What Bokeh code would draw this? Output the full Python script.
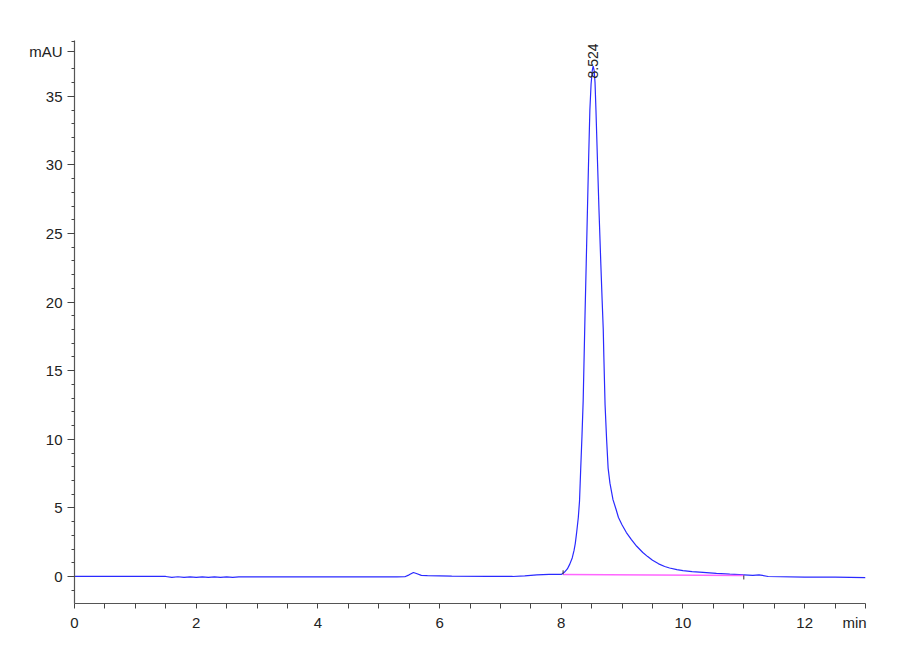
from bokeh.plotting import figure
from bokeh.models import Range1d, FixedTicker, ColumnDataSource
from bokeh.embed import file_html
from bokeh.resources import INLINE
from bokeh.core.properties import value
import math

# Chromatogram trace (time in min, signal in mAU)
times = [0.0, 1.5, 1.6, 1.7, 1.8, 1.9, 2.0, 2.1, 2.2, 2.3, 2.4, 2.5, 2.6, 2.7,
         3.5, 4.5, 5.3, 5.43, 5.5, 5.57, 5.63, 5.7, 5.8, 6.2, 6.8, 7.2, 7.4,
         7.6, 7.8, 8.0, 8.05, 8.1, 8.14, 8.18, 8.21, 8.23, 8.25, 8.28, 8.30,
         8.32, 8.34, 8.36, 8.39, 8.41, 8.43, 8.45, 8.47, 8.49, 8.51, 8.524,
         8.54, 8.555, 8.57, 8.595, 8.62, 8.65, 8.672, 8.69, 8.70, 8.72, 8.745,
         8.77, 8.80, 8.85, 8.90, 8.94, 9.0, 9.07, 9.15, 9.24, 9.34, 9.42, 9.5,
         9.6, 9.7, 9.78, 9.9, 10.0, 10.15, 10.33, 10.55, 10.77, 11.0, 11.15,
         11.25, 11.4, 12.0, 12.5, 13.0]
signal = [0.0, 0.0, -0.06, -0.02, -0.06, -0.03, -0.06, -0.03, -0.07, -0.03,
          -0.06, -0.03, -0.06, -0.03,
          -0.03, -0.03, -0.03, -0.02, 0.12, 0.29, 0.2, 0.08, 0.06, 0.03, 0.0,
          0.0, 0.05, 0.12, 0.15, 0.15, 0.3, 0.55, 0.9, 1.35, 1.9, 2.4, 3.1,
          4.3, 5.5, 7.9, 10.2, 12.8, 19.0, 22.8, 26.7, 30.5, 34.0, 35.9, 36.9,
          37.2, 36.9, 36.0, 34.0, 30.3, 26.7, 22.8, 20.1, 18.0, 16.0, 12.5,
          10.0, 7.9, 6.8, 5.6, 4.9, 4.3, 3.75, 3.2, 2.7, 2.2, 1.75, 1.45, 1.18,
          0.92, 0.73, 0.62, 0.5, 0.43, 0.36, 0.3, 0.23, 0.17, 0.12, 0.08,
          0.12, 0.0, -0.05, -0.05, -0.08]

# Integration baseline
base_t = [8.03, 11.0]
base_v = [0.15, 0.08]

# Peak annotation
peak_time = 8.524
peak_label = "8.524"
peak_value = 37.2

# Axis ticks and unit labels
x_major = [0, 2, 4, 6, 8, 10, 12]
x_minor = [i * 0.5 for i in range(0, 27)]
x_unit = "min"
x_unit_pos = 12.82
y_major = [0, 5, 10, 15, 20, 25, 30, 35]
y_minor = [i for i in range(-1, 40) if i != 38]
y_unit = "mAU"
y_unit_pos = 38.3

FONT = "'Liberation Sans Narrow', 'Arial Narrow', 'Liberation Sans'"

p = figure(width=892, height=652, output_backend="svg", toolbar_location=None,
           x_range=Range1d(0, 13), y_range=Range1d(-1.97, 39.07),
           min_border_left=74, min_border_right=27, min_border_top=40,
           min_border_bottom=49)
p.outline_line_color = None
p.xgrid.visible = False
p.ygrid.visible = False
p.background_fill_color = "white"
p.border_fill_color = "white"

for ax in (p.xaxis[0], p.yaxis[0]):
    ax.axis_line_color = "#555555"
    ax.axis_line_width = 1.2
    ax.major_tick_line_color = "#444444"
    ax.minor_tick_line_color = "#444444"
    ax.major_tick_in = 0
    ax.minor_tick_in = 0
    ax.major_label_text_font = FONT
    ax.major_label_text_font_size = "15px"
    ax.major_label_text_color = "#222222"

xa = p.xaxis[0]
xa.ticker = FixedTicker(ticks=x_major + [x_unit_pos], minor_ticks=x_minor)
xa.major_label_overrides = {x_unit_pos: x_unit}
xa.major_tick_out = 0
xa.minor_tick_out = 5
xa.major_label_standoff = 5

ya = p.yaxis[0]
ya.ticker = FixedTicker(ticks=y_major + [y_unit_pos], minor_ticks=y_minor)
ya.major_label_overrides = {y_unit_pos: y_unit}
ya.major_tick_out = 7
ya.minor_tick_out = 3
ya.major_label_standoff = 5

src = ColumnDataSource(dict(t=times, v=signal))
p.line("t", "v", source=src, line_color="#2a2aff", line_width=1.2)

# integration baseline and markers
p.line(base_t, base_v, line_color="#ff66ff", line_width=1.5)
p.segment(x0=[base_t[0]], y0=[base_v[0]], x1=[base_t[0]], y1=[base_v[0] + 0.3],
          line_color="#333333", line_width=1)
p.segment(x0=[base_t[1]], y0=[base_v[1]], x1=[base_t[1]], y1=[base_v[1] - 0.3],
          line_color="#333333", line_width=1)

# peak label (rotated)
p.text(x=[peak_time], y=[peak_value - 0.9], text=[peak_label], angle=math.pi / 2,
       text_align="left", text_baseline="middle",
       text_font=value("Liberation Sans"), text_font_size="14px",
       text_color="#222222")

open("out.html", "w").write(file_html(p, INLINE))
